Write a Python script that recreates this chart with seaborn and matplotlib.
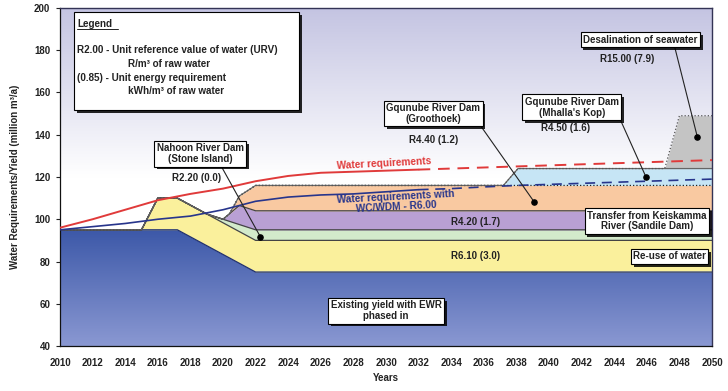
import numpy as np
import pandas as pd
import matplotlib
matplotlib.use("Agg")
import matplotlib.pyplot as plt
import matplotlib.patheffects as pe
from matplotlib.patches import Rectangle
from matplotlib.colors import LinearSegmentedColormap
import seaborn as sns

sns.set_theme(style="white")
plt.rcParams["font.family"] = ["Liberation Sans", "DejaVu Sans"]
plt.rcParams["font.weight"] = "bold"

# ── supply bands: thickness (million m3/a) at breakpoint years
existing_yrs = [2010, 2017.2, 2022, 2050]
existing_val = [95, 95, 75, 75]
reuse_yrs = [2010, 2015, 2016, 2050]
reuse_val = [0, 0, 15, 15]
nahoon_yrs = [2010, 2019, 2022, 2050]
nahoon_val = [0, 0, 5, 5]
keisk_yrs = [2010, 2020, 2021, 2050]
keisk_val = [0, 0, 9, 9]
grooth_yrs = [2010, 2020.4, 2022, 2050]
grooth_val = [0, 0, 12, 12]
mhalla_yrs = [2010, 2037.2, 2038.1, 2050]
mhalla_val = [0, 0, 8, 8]
desal_yrs = [2010, 2047.1, 2048, 2050]
desal_val = [0, 0, 25, 25]

# ── requirement curves
req_yrs = [2010, 2012, 2014, 2016, 2018, 2020, 2022, 2024, 2026, 2028, 2030,
           2032, 2034, 2036, 2038, 2040, 2042, 2044, 2046, 2048, 2050]
req_val = [96, 100, 104.5, 109, 112, 114.5, 118, 120.5, 122, 122.5, 123,
           123.5, 124, 124.5, 125, 125.5, 126, 126.5, 127, 127.5, 128]
wdm_val = [95, 96.5, 98, 100, 101.5, 104.5, 108.5, 110.5, 111.5, 112, 113,
           114, 114.5, 115.3, 116, 116.5, 117, 117.5, 118, 118.5, 119]
proj_start = 2032

fig = plt.figure(figsize=(7.28, 3.91), dpi=100)
ax = fig.add_axes([60/728, 45/391, 652/728, 338/391])

# background gradient
bg = LinearSegmentedColormap.from_list("bg", ["#ffffff", "#ffffff", "#c4c4e2"])
ax.imshow(np.linspace(0, 1, 256).reshape(-1, 1), extent=[2010, 2050, 40, 200],
          origin="lower", aspect="auto", cmap=bg, zorder=0)

layers = [
    (existing_yrs, existing_val, None, "#1f2f70", "-"),
    (reuse_yrs, reuse_val, "#faf09c", "#444444", "-"),
    (nahoon_yrs, nahoon_val, "#d3eacb", "#444444", "-"),
    (keisk_yrs, keisk_val, "#b9a0d4", "#444444", "-"),
    (grooth_yrs, grooth_val, "#f9c9a1", "#222222", ":"),
    (mhalla_yrs, mhalla_val, "#c6e5f5", "#666666", "-"),
    (desal_yrs, desal_val, "#c4c4c4", "#555555", ":"),
]
grid = np.unique(np.concatenate([l[0] for l in layers]))
bottom = np.zeros_like(grid, dtype=float)
for yrs, vals, fc, ec, ls in layers:
    top = bottom + np.interp(grid, yrs, vals)
    if fc is None:
        poly = ax.fill_between(grid, bottom, top, facecolor="none", lw=0, zorder=1)
        blue = LinearSegmentedColormap.from_list("bl", ["#8a98d2", "#3c58a8"])
        im = ax.imshow(np.linspace(0, 1, 256).reshape(-1, 1),
                       extent=[2010, 2050, 40, max(vals)], origin="lower",
                       aspect="auto", cmap=blue, zorder=1)
        im.set_clip_path(poly.get_paths()[0], transform=ax.transData)
    else:
        ax.fill_between(grid, bottom, top, facecolor=fc, lw=0, zorder=1)
    ax.plot(grid, top, color=ec, lw=0.9, ls=ls, zorder=2)
    bottom = top

# requirement lines
req = pd.DataFrame({"year": req_yrs, "req": req_val, "wdm": wdm_val})
hist = req[req["year"] <= proj_start]
proj = req[req["year"] >= proj_start]
sns.lineplot(data=hist, x="year", y="req", ax=ax, color="#e03a3a", lw=1.4, zorder=3)
sns.lineplot(data=proj, x="year", y="req", ax=ax, color="#e03a3a", lw=1.4,
             zorder=3).lines[-1].set_dashes([6, 4])
sns.lineplot(data=hist, x="year", y="wdm", ax=ax, color="#27358c", lw=1.2, zorder=3)
sns.lineplot(data=proj, x="year", y="wdm", ax=ax, color="#27358c", lw=1.2,
             zorder=3).lines[-1].set_dashes([6, 4])

shadow = [pe.withSimplePatchShadow(offset=(2, -2), shadow_rgbFace="black", alpha=0.85)]
box = dict(boxstyle="square,pad=0.25", fc="white", ec="black", lw=0.8)


def label(x, y, s, **kw):
    t = ax.text(x, y, s, ha="center", va="center", fontsize=7, fontweight="bold",
                color="#222222", bbox=box, zorder=6, linespacing=1.1, **kw)
    t.get_bbox_patch().set_path_effects(shadow)
    return t


def pointer(x0, y0, x1, y1):
    ax.annotate("", xy=(x1, y1), xytext=(x0, y0), zorder=5,
                arrowprops=dict(arrowstyle="-", color="#222222", lw=0.8,
                                shrinkA=0, shrinkB=0))
    ax.scatter([x1], [y1], s=14, color="black", zorder=6)


# legend box
leg = Rectangle((2010.85, 151.5), 13.8, 46.5, fc="white", ec="black", lw=0.8, zorder=6)
leg.set_path_effects(shadow)
ax.add_patch(leg)
lk = dict(fontsize=7.1, fontweight="bold", color="#222222", va="center", zorder=7)
ax.text(2011.05, 192.4, "Legend", **lk)
ax.plot([2011.05, 2013.55], [190.2, 190.2], color="#222222", lw=0.7, zorder=7)
ax.text(2011.05, 180, "R2.00 - Unit reference value of water (URV)", **lk)
ax.text(2014.2, 173.4, "R/m³ of raw water", **lk)
ax.text(2011.05, 166.8, "(0.85) - Unit energy requirement", **lk)
ax.text(2014.2, 160.5, "kWh/m³ of raw water", **lk)

# scheme labels
label(2018.6, 131, "Nahoon River Dam\n(Stone Island)")
ax.text(2018.4, 119.5, "R2.20 (0.0)", ha="center", va="center", fontsize=7, color="#222222", zorder=6)
pointer(2019.9, 125, 2022.3, 91.6)

label(2032.9, 150, "Gqunube River Dam\n(Groothoek)")
ax.text(2032.9, 137.6, "R4.40 (1.2)", ha="center", va="center", fontsize=7, color="#222222", zorder=6)
pointer(2035.8, 144.3, 2039.1, 108.1)

label(2041.4, 153, "Gqunube River Dam\n(Mhalla's Kop)")
ax.text(2041.0, 143, "R4.50 (1.6)", ha="center", va="center", fontsize=7, color="#222222", zorder=6)
pointer(2044.4, 146.7, 2045.95, 120)

label(2045.6, 185, "Desalination of seawater")
ax.text(2044.8, 176, "R15.00 (7.9)", ha="center", va="center", fontsize=7, color="#222222", zorder=6)
pointer(2047.7, 181.9, 2049.1, 139)

label(2046.0, 99.2, "Transfer from Keiskamma\nRiver (Sandile Dam)")
label(2047.4, 82.4, "Re-use of water")
label(2030.0, 56.7, "Existing yield with EWR\nphased in")
ax.text(2035.5, 98.6, "R4.20 (1.7)", ha="center", va="center", fontsize=7, color="#222222", zorder=6)
ax.text(2035.5, 82.4, "R6.10 (3.0)", ha="center", va="center", fontsize=7, color="#222222", zorder=6)

ax.text(2029.9, 126.2, "Water requirements", ha="center", va="center", fontsize=7.3,
        color="#e03a3a", rotation=3, zorder=6)
ax.text(2030.6, 108.3, "Water requirements with\nWC/WDM - R6.00", ha="center", va="center",
        fontsize=7.3, color="#27358c", rotation=3, linespacing=1.0, zorder=6)

# axes
ax.set_xlim(2010, 2050)
ax.set_ylim(40, 200)
ax.set_xticks(range(2010, 2051, 2))
ax.set_yticks(range(40, 201, 20))
ax.tick_params(axis="both", labelsize=7, colors="#222222")
ax.tick_params(axis="y", length=3, width=0.8, left=True, pad=4)
ax.tick_params(axis="x", length=0, pad=9)
for lab in ax.get_xticklabels() + ax.get_yticklabels():
    lab.set_fontweight("bold")
ax.set_xlabel("Years", fontsize=7, fontweight="bold", color="#222222", labelpad=3)
ax.set_ylabel("Water Requirements/Yield (million m³/a)", fontsize=7, fontweight="bold",
              color="#222222", labelpad=10)
for s in ["left", "bottom"]:
    ax.spines[s].set_color("#111111")
    ax.spines[s].set_linewidth(0.9)
for s in ["top", "right"]:
    ax.spines[s].set_color("#333355")
    ax.spines[s].set_linewidth(1.0)
ax.grid(False)

plt.savefig("out.png", dpi=100)
